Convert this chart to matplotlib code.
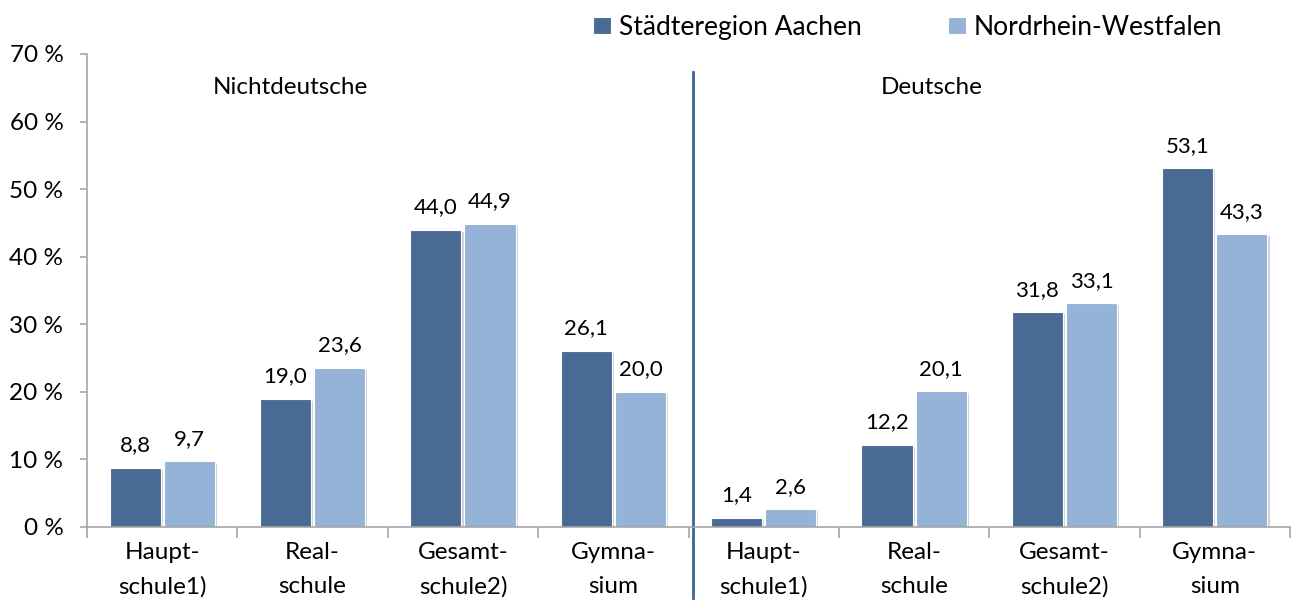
import matplotlib.pyplot as plt
import matplotlib.patheffects as pe
import numpy as np

plt.rcParams['font.family'] = ['Lato', 'DejaVu Sans']

# data
categories = ["Haupt-\nschule1)", "Real-\nschule", "Gesamt-\nschule2)", "Gymna-\nsium",
              "Haupt-\nschule1)", "Real-\nschule", "Gesamt-\nschule2)", "Gymna-\nsium"]
aachen = [8.8, 19.0, 44.0, 26.1, 1.4, 12.2, 31.8, 53.1]
nrw = [9.7, 23.6, 44.9, 20.0, 2.6, 20.1, 33.1, 43.3]
series_names = ["Städteregion Aachen", "Nordrhein-Westfalen"]
group_names = ["Nichtdeutsche", "Deutsche"]

dark = "#4a6a96"
light = "#95b3d7"
axis_col = "#a6a6a6"

fig = plt.figure(figsize=(12.93, 6.06), dpi=100)
ax = fig.add_axes([0.0673, 0.1304, 0.9304, 0.7805])

x = np.arange(len(categories))
w = 0.34
shadow = [pe.SimplePatchShadow(offset=(1.5, -1.5), shadow_rgbFace="gray", alpha=0.35), pe.Normal()]
b1 = ax.bar(x - w / 2 - 0.01, aachen, w, color=dark, edgecolor="white", linewidth=0.8,
            label=series_names[0], path_effects=shadow)
b2 = ax.bar(x + w / 2 + 0.01, nrw, w, color=light, edgecolor="white", linewidth=0.8,
            label=series_names[1], path_effects=shadow)

for bars, vals in ((b1, aachen), (b2, nrw)):
    for b, v in zip(bars, vals):
        ax.annotate(f"{v:.1f}".replace(".", ","), (b.get_x() + b.get_width() / 2, v),
                    xytext=(0, 9), textcoords="offset points", ha="center", va="bottom",
                    fontsize=16, color="black")

ax.set_xlim(-0.5, 7.5)
ax.set_ylim(0, 70)
ax.set_yticks(range(0, 71, 10))
ax.set_yticklabels([f"{t} %" for t in range(0, 71, 10)], fontsize=17.5)
ax.set_xticks(x)
ax.set_xticklabels(categories, fontsize=17.5, linespacing=1.75)
ax.set_xticks(np.arange(-0.5, 8, 1), minor=True)
ax.tick_params(axis="x", which="major", length=0, pad=11)
ax.tick_params(axis="x", which="minor", length=8, color=axis_col, width=1.2)
ax.tick_params(axis="y", length=5, color=axis_col, width=1.2, pad=12)

for s in ("top", "right"):
    ax.spines[s].set_visible(False)
for s in ("left", "bottom"):
    ax.spines[s].set_color(axis_col)
    ax.spines[s].set_linewidth(1.2)

# separator between the two groups
ax.plot([3.527, 3.527], [67.3, -10.5], color="#3f6596", lw=2, clip_on=False)

ax.text(0.85, 65, group_names[0], ha="center", va="center", fontsize=17.5)
ax.text(5.12, 65, group_names[1], ha="center", va="center", fontsize=17.5)

leg = fig.legend(handles=[b1, b2], loc="center", bbox_to_anchor=(0.702, 0.955), ncol=2,
                 frameon=False, fontsize=19, handlelength=0.65, handleheight=0.65,
                 handletextpad=0.3, columnspacing=3.3)
for h in leg.legend_handles:
    h.set_path_effects([])

fig.savefig("out.png", dpi=100)
